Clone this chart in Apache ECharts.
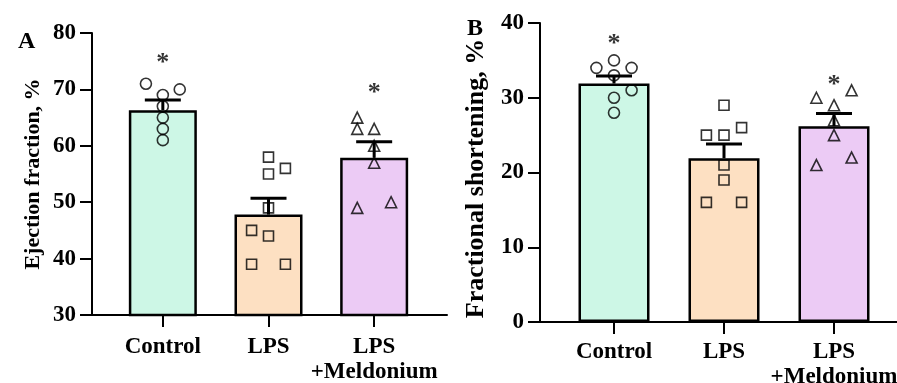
<!DOCTYPE html>
<html>
<head>
<meta charset="utf-8">
<script src="https://cdn.jsdelivr.net/npm/echarts@6/dist/echarts.min.js"></script>
<style>
  html, body { margin: 0; padding: 0; background: #fff; }
  #chart { width: 897px; height: 383px; }
</style>
</head>
<body>
<div id="chart"></div>
<script>
// groups
var categories = ['Control', 'LPS', 'LPS\n+Meldonium'];
var barColors = ['#cdf7e6', '#fde0c2', '#eccbf5'];

// A: ejection fraction, %
var efMean = [66.3, 47.8, 57.9];
var efSem = [1.8, 2.9, 2.8];
var efControl = [71, 70, 69, 67, 65, 63, 61];
var efLps = [58, 56, 55, 49, 45, 44, 39, 39];
var efLpsMel = [65, 63, 63, 60, 57, 50, 49];
// side of each dot in the swarm (-1 left, 0 middle, 1 right)
var efControlSide = [-1, 1, 0, 0, 0, 0, 0];
var efLpsSide = [0, 1, 0, 0, -1, 0, -1, 1];
var efLpsMelSide = [-1, -1, 0, 0, 0, 1, -1];
var efStars = [74.6, null, 69.3];
var efTicks = [30, 40, 50, 60, 70, 80];

// B: fractional shortening, %
var fsMean = [31.9, 21.9, 26.2];
var fsSem = [1.0, 1.9, 1.7];
var fsControl = [35, 34, 34, 33, 31, 30, 28];
var fsLps = [29, 26, 25, 25, 21, 19, 16, 16];
var fsLpsMel = [31, 30, 29, 27, 25, 22, 21];
var fsControlSide = [0, -1, 1, 0, 1, 0, 0];
var fsLpsSide = [0, 1, -1, 0, 0, 0, -1, 1];
var fsLpsMelSide = [1, -1, 0, 0, 0, 1, -1];
var fsStars = [37.2, null, 31.7];
var fsTicks = [0, 10, 20, 30, 40];

var FONT = '"Liberation Serif", "Times New Roman", serif';
var chart = echarts.init(document.getElementById('chart'));

function dots(vals, sides, idx, step) {
  return vals.map(function (v, i) { return [idx + sides[i] * step, v]; });
}

function frameY(ticks, name, gap, nameSize, namePad) {
  return {
    type: 'value',
    min: ticks[0], max: ticks[ticks.length - 1], interval: ticks[1] - ticks[0],
    name: name, nameLocation: 'middle', nameGap: gap,
    nameTextStyle: { fontFamily: FONT, fontWeight: 'bold', fontSize: nameSize, color: '#000', padding: namePad },
    splitLine: { show: false },
    axisLine: { show: true, lineStyle: { color: '#000', width: 2 } },
    axisTick: { show: true, length: 12, lineStyle: { color: '#000', width: 2 } },
    axisLabel: { fontFamily: FONT, fontWeight: 'bold', fontSize: 23, color: '#000', margin: 16 }
  };
}
function frameX(grid) {
  return {
    type: 'value', gridIndex: grid, min: 0, max: 1,
    splitLine: { show: false }, axisTick: { show: false }, axisLabel: { show: false },
    axisLine: { show: true, onZero: false, lineStyle: { color: '#000', width: 2 } }
  };
}
function catX(grid, margin) {
  return {
    type: 'category', gridIndex: grid, data: categories,
    axisLine: { show: false },
    axisTick: { show: true, alignWithLabel: true, length: 12, lineStyle: { color: '#000', width: 2 } },
    axisLabel: { fontFamily: FONT, fontWeight: 'bold', fontSize: 23, color: '#000', margin: margin, lineHeight: 25, interval: 0 }
  };
}
function swarmX(grid) {
  return { type: 'value', gridIndex: grid, min: -0.5, max: 2.5, show: false };
}
function hiddenY(grid, ticks) {
  return { type: 'value', gridIndex: grid, min: ticks[0], max: ticks[ticks.length - 1], show: false };
}

function panelSeries(xCat, xSwarm, yIdx, mean, sem, groups, sides, stars, barW) {
  var list = [];
  list.push({
    type: 'bar', xAxisIndex: xCat, yAxisIndex: yIdx, barWidth: barW,
    data: mean.map(function (m, i) {
      return { value: m, itemStyle: { color: barColors[i], borderColor: '#000', borderWidth: 2.5 } };
    }),
    z: 2
  });
  list.push({
    type: 'custom', xAxisIndex: xCat, yAxisIndex: yIdx, z: 3,
    data: mean.map(function (m, i) { return [i, m, m + sem[i]]; }),
    renderItem: function (params, api) {
      var lo = api.coord([api.value(0), api.value(1)]);
      var hi = api.coord([api.value(0), api.value(2)]);
      var st = { stroke: '#000', lineWidth: 3 };
      return {
        type: 'group',
        children: [
          { type: 'line', shape: { x1: lo[0], y1: lo[1], x2: hi[0], y2: hi[1] }, style: st },
          { type: 'line', shape: { x1: hi[0] - 18, y1: hi[1], x2: hi[0] + 18, y2: hi[1] }, style: st }
        ]
      };
    }
  });
  var symbols = [['circle', 11], ['rect', 10], ['triangle', 11]];
  groups.forEach(function (g, i) {
    list.push({
      type: 'scatter', xAxisIndex: xSwarm, yAxisIndex: yIdx, z: 4,
      symbol: symbols[i][0], symbolSize: symbols[i][1],
      itemStyle: { color: 'rgba(0,0,0,0)', borderColor: '#000', borderWidth: 1.6 },
      data: dots(g, sides[i], i, 0.16)
    });
  });
  list.push({
    type: 'scatter', xAxisIndex: xSwarm, yAxisIndex: yIdx, z: 5,
    symbolSize: 1, itemStyle: { color: 'rgba(0,0,0,0)' },
    label: { show: true, position: 'inside', formatter: '*', fontFamily: FONT, fontWeight: 'bold', fontSize: 26, color: '#000' },
    data: stars.map(function (s, i) { return s === null ? null : [i, s]; }).filter(function (d) { return d; })
  });
  return list;
}

var option = {
  animation: false,
  title: [
    { text: 'A', left: 13, top: 25, textStyle: { fontFamily: FONT, fontWeight: 'bold', fontSize: 24, color: '#000' } },
    { text: 'B', left: 462, top: 12, textStyle: { fontFamily: FONT, fontWeight: 'bold', fontSize: 24, color: '#000' } }
  ],
  grid: [
    { left: 92, top: 33, width: 355, height: 282, outerBoundsMode: 'none' },
    { left: 110, top: 33, width: 317, height: 282, outerBoundsMode: 'none' },
    { left: 540, top: 23, width: 357, height: 299, outerBoundsMode: 'none' },
    { left: 559, top: 23, width: 330, height: 299, outerBoundsMode: 'none' }
  ],
  xAxis: [frameX(0), catX(1, 20), swarmX(1), frameX(2), catX(3, 18), swarmX(3)],
  yAxis: [
    Object.assign(frameY(efTicks, 'Ejection fraction, %', 48, 22, 0), { gridIndex: 0 }),
    hiddenY(1, efTicks),
    Object.assign(frameY(fsTicks, 'Fractional shortening, %', 51, 26, [0, 12, 0, 0]), { gridIndex: 2 }),
    hiddenY(3, fsTicks)
  ],
  series: []
    .concat(panelSeries(1, 2, 1, efMean, efSem, [efControl, efLps, efLpsMel], [efControlSide, efLpsSide, efLpsMelSide], efStars, 68))
    .concat(panelSeries(4, 5, 3, fsMean, fsSem, [fsControl, fsLps, fsLpsMel], [fsControlSide, fsLpsSide, fsLpsMelSide], fsStars, 71))
};
chart.setOption(option);
</script>
</body>
</html>
